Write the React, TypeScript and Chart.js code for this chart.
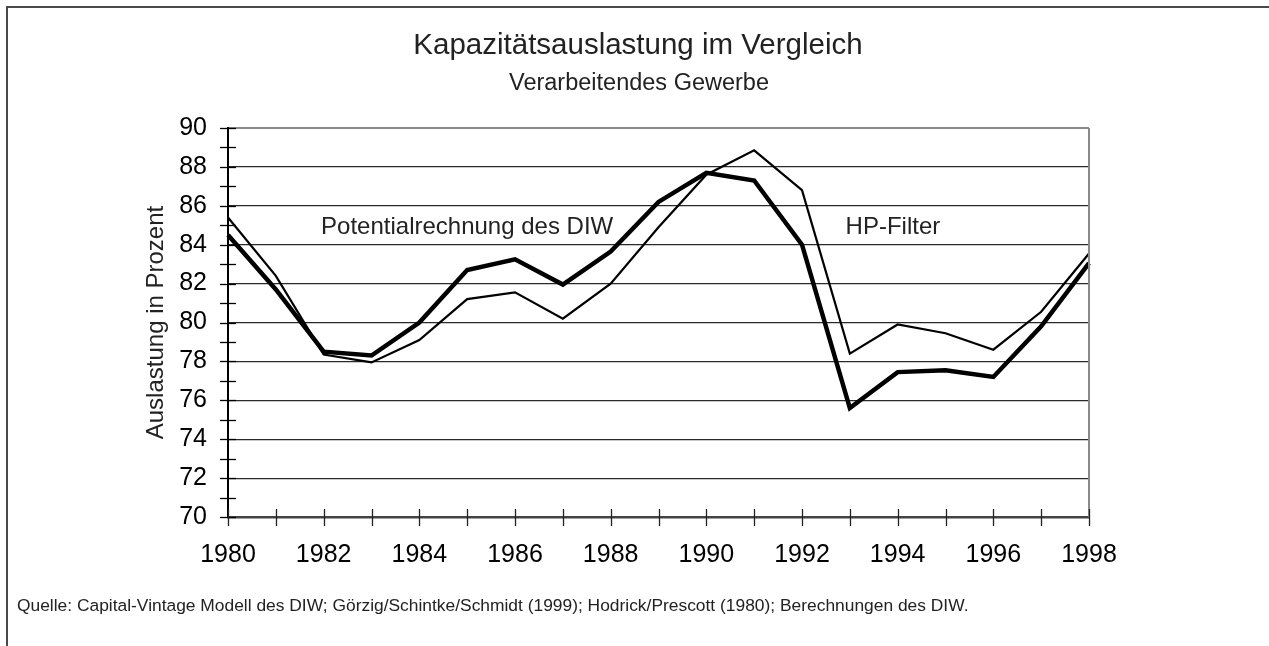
import React, { useEffect, useRef } from 'react';
import { Chart, registerables } from 'chart.js';

Chart.register(...registerables);

const years = [1980, 1981, 1982, 1983, 1984, 1985, 1986, 1987, 1988, 1989, 1990, 1991, 1992, 1993, 1994, 1995, 1996, 1997, 1998];
const potentialDIW = [84.5, 81.7, 78.5, 78.3, 80.0, 82.7, 83.25, 81.95, 83.65, 86.2, 87.7, 87.3, 84.0, 75.6, 77.45, 77.55, 77.2, 79.8, 83.05];
const hpFilter = [85.4, 82.4, 78.35, 77.95, 79.1, 81.2, 81.55, 80.2, 82.0, 84.9, 87.6, 88.85, 86.8, 78.4, 79.9, 79.45, 78.6, 80.55, 83.55];
const yTickValues = [70, 72, 74, 76, 78, 80, 82, 84, 86, 88, 90];
const annotationTexts = ['Potentialrechnung des DIW', 'HP-Filter'];
const annotationYears = [1985.0, 1993.9];
const annotationValues = [84.9, 84.9];

const titleText = 'Kapazitätsauslastung im Vergleich';
const subtitleText = 'Verarbeitendes Gewerbe';
const yAxisTitle = 'Auslastung in Prozent';
const footerText = 'Quelle: Capital-Vintage Modell des DIW; Görzig/Schintke/Schmidt (1999); Hodrick/Prescott (1980); Berechnungen des DIW.';

const FONT = "'Liberation Sans', Arial, Helvetica, sans-serif";

const decorPlugin = {
  id: 'decor',
  afterDraw(chart: any) {
    const { ctx, chartArea, scales } = chart;
    const xs = scales.x;
    const ys = scales.y;
    ctx.save();
    // outer frame (top and left)
    ctx.strokeStyle = '#4a4a4a';
    ctx.lineWidth = 2;
    ctx.beginPath();
    ctx.moveTo(7, 646);
    ctx.lineTo(7, 7);
    ctx.lineTo(1269, 7);
    ctx.stroke();

    // title and subtitle
    ctx.fillStyle = '#222';
    ctx.textAlign = 'center';
    ctx.textBaseline = 'middle';
    ctx.font = `29.5px ${FONT}`;
    ctx.fillText(titleText, 638, 46);
    ctx.font = `23.5px ${FONT}`;
    ctx.fillText(subtitleText, 639, 84);

    // right border of plot area
    ctx.strokeStyle = '#8a8a8a';
    ctx.lineWidth = 2;
    ctx.beginPath();
    ctx.moveTo(chartArea.right, chartArea.top);
    ctx.lineTo(chartArea.right, chartArea.bottom);
    ctx.stroke();

    // y tick marks crossing the axis at every unit
    ctx.strokeStyle = '#000';
    ctx.lineWidth = 1.3;
    const ax = chartArea.left;
    for (let v = ys.min; v <= ys.max; v += 1) {
      const py = Math.round(ys.getPixelForValue(v)) + 0.5;
      ctx.beginPath();
      ctx.moveTo(ax - 8, py);
      ctx.lineTo(ax + 8, py);
      ctx.stroke();
    }
    // x tick marks crossing the axis at every year
    const by = chartArea.bottom;
    ctx.strokeStyle = '#222';
    for (let i = 0; i < years.length; i++) {
      const px = Math.round(xs.getPixelForValue(i)) + 0.5;
      ctx.beginPath();
      ctx.moveTo(px, by - 8);
      ctx.lineTo(px, by + 9);
      ctx.stroke();
    }

    // annotations
    ctx.fillStyle = '#222';
    ctx.font = `24px ${FONT}`;
    ctx.textAlign = 'center';
    ctx.textBaseline = 'middle';
    for (let i = 0; i < annotationTexts.length; i++) {
      const px = xs.getPixelForValue(annotationYears[i] - years[0]);
      const py = ys.getPixelForValue(annotationValues[i]);
      ctx.fillText(annotationTexts[i], px, py);
    }

    // footer
    ctx.font = `17.4px ${FONT}`;
    ctx.textAlign = 'left';
    ctx.fillText(footerText, 17, 606);
    ctx.restore();
  },
};

export default function App() {
  const canvasRef = useRef<HTMLCanvasElement | null>(null);

  useEffect(() => {
    document.body.style.margin = '0';
    const canvas = canvasRef.current;
    if (!canvas) return;
    const chart = new Chart(canvas, {
      type: 'line',
      data: {
        labels: years.map(String),
        datasets: [
          {
            label: 'HP-Filter',
            data: hpFilter,
            borderColor: '#000',
            borderWidth: 2.2,
            pointRadius: 0,
            tension: 0,
            fill: false,
          },
          {
            label: 'Potentialrechnung des DIW',
            data: potentialDIW,
            borderColor: '#000',
            borderWidth: 4.5,
            pointRadius: 0,
            tension: 0,
            fill: false,
          },
        ],
      },
      options: {
        animation: false,
        responsive: true,
        maintainAspectRatio: false,
        layout: { padding: { left: 136, right: 180, top: 128, bottom: 0 } },
        plugins: {
          legend: { display: false },
          tooltip: { enabled: false },
          title: { display: false },
          subtitle: { display: false },
        },
        scales: {
          x: {
            type: 'category',
            offset: false,
            grid: { display: true, color: 'rgba(0,0,0,0)', drawTicks: false },
            border: { display: true, color: '#444', width: 2.5 },
            ticks: {
              autoSkip: false,
              maxRotation: 0,
              color: '#000',
              padding: 23,
              font: { family: FONT, size: 25 },
              callback: (_v: any, i: number) => (years[i] % 2 === 0 ? String(years[i]) : ''),
            },
            afterFit: (scale: any) => {
              scale.height = 129;
            },
          },
          y: {
            min: 70,
            max: 90,
            afterBuildTicks: (scale: any) => {
              scale.ticks = yTickValues.map((v) => ({ value: v }));
            },
            grid: {
              drawTicks: false,
              color: (c: any) => (c.tick && c.tick.value === 90 ? '#8a8a8a' : '#2a2a2a'),
              lineWidth: (c: any) => (c.tick && c.tick.value === 90 ? 2 : 1.2),
            },
            border: { display: true, color: '#000', width: 2 },
            ticks: {
              color: '#000',
              padding: 21,
              font: { family: FONT, size: 25 },
            },
            title: {
              display: true,
              text: yAxisTitle,
              color: '#222',
              font: { family: FONT, size: 24 },
              padding: { top: 6, bottom: 0 },
            },
            afterFit: (scale: any) => {
              scale.width = 92;
            },
          },
        },
      },
      plugins: [decorPlugin],
    });
    return () => chart.destroy();
  }, []);

  return (
    <div style={{ position: 'relative', width: '1269px', height: '646px' }}>
      <canvas ref={canvasRef} />
    </div>
  );
}
